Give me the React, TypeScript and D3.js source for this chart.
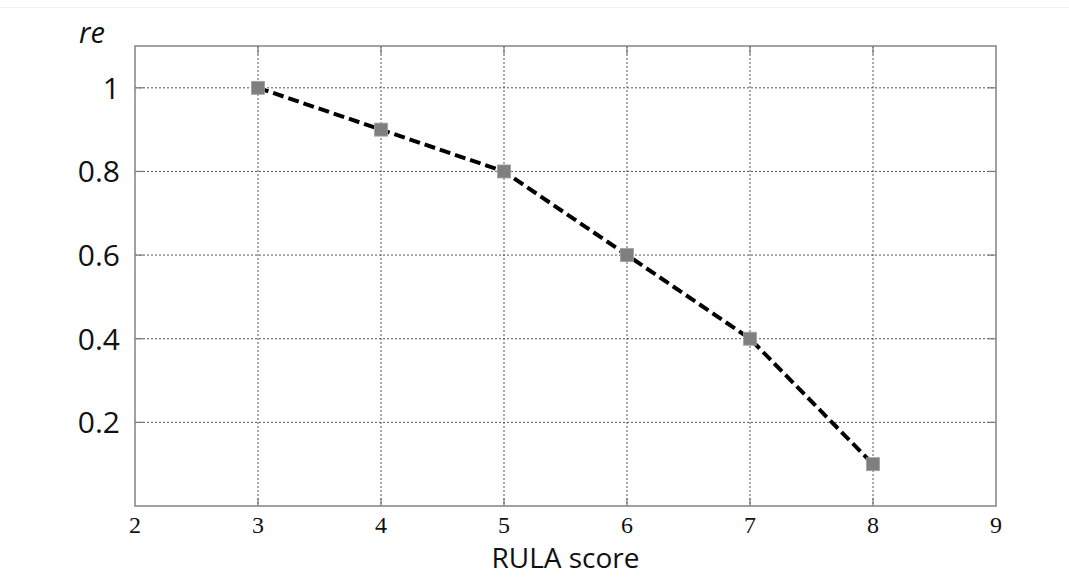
import { useEffect, useRef } from 'react'
import * as d3 from 'd3'

const rulaScores = [3, 4, 5, 6, 7, 8]
const reValues = [1.0, 0.9, 0.8, 0.6, 0.4, 0.1]
const xTicks = [2, 3, 4, 5, 6, 7, 8, 9]
const yTicks = [0.2, 0.4, 0.6, 0.8, 1]

const WIDTH = 1069
const HEIGHT = 580
const MARGIN = { top: 46, right: 73, bottom: 74, left: 135 }

export default function App() {
  const svgRef = useRef<SVGSVGElement>(null)

  useEffect(() => {
    if (!svgRef.current) return
    document.body.style.margin = '0'

    const innerWidth = WIDTH - MARGIN.left - MARGIN.right
    const innerHeight = HEIGHT - MARGIN.top - MARGIN.bottom

    const svg = d3.select(svgRef.current)
    svg.selectAll('*').remove()

    svg.append('rect').attr('width', WIDTH).attr('height', HEIGHT).attr('fill', '#fff')
    svg
      .append('line')
      .attr('x1', 0)
      .attr('x2', WIDTH)
      .attr('y1', 7.5)
      .attr('y2', 7.5)
      .attr('stroke', '#f0f0f0')

    const g = svg.append('g').attr('transform', `translate(${MARGIN.left},${MARGIN.top})`)

    const x = d3.scaleLinear().domain([2, 9]).range([0, innerWidth])
    const y = d3.scaleLinear().domain([0, 1.1]).range([innerHeight, 0])

    // grid
    g.append('g')
      .selectAll('line')
      .data(xTicks.slice(1, -1))
      .join('line')
      .attr('x1', (d) => x(d))
      .attr('x2', (d) => x(d))
      .attr('y1', 0)
      .attr('y2', innerHeight)
      .attr('stroke', '#555')
      .attr('stroke-width', 1)
      .attr('stroke-dasharray', '2,2')
    g.append('g')
      .selectAll('line')
      .data(yTicks)
      .join('line')
      .attr('x1', 0)
      .attr('x2', innerWidth)
      .attr('y1', (d) => y(d))
      .attr('y2', (d) => y(d))
      .attr('stroke', '#555')
      .attr('stroke-width', 1)
      .attr('stroke-dasharray', '2,2')

    // inward ticks
    const tickLen = 8
    const tickG = g.append('g').attr('stroke', '#777').attr('stroke-width', 1.2)
    for (const t of xTicks.slice(1, -1)) {
      tickG.append('line').attr('x1', x(t)).attr('x2', x(t)).attr('y1', innerHeight).attr('y2', innerHeight - tickLen)
      tickG.append('line').attr('x1', x(t)).attr('x2', x(t)).attr('y1', 0).attr('y2', tickLen)
    }
    for (const t of yTicks) {
      tickG.append('line').attr('x1', 0).attr('x2', tickLen).attr('y1', y(t)).attr('y2', y(t))
      tickG.append('line').attr('x1', innerWidth).attr('x2', innerWidth - tickLen).attr('y1', y(t)).attr('y2', y(t))
    }

    // frame
    g.append('rect')
      .attr('width', innerWidth)
      .attr('height', innerHeight)
      .attr('fill', 'none')
      .attr('stroke', '#8a8a8a')
      .attr('stroke-width', 1.6)

    // y labels
    g.append('g')
      .selectAll('text')
      .data(yTicks)
      .join('text')
      .attr('x', -15)
      .attr('y', (d) => y(d))
      .attr('dy', '0.36em')
      .attr('text-anchor', 'end')
      .attr('font-family', '"Open Sans", sans-serif')
      .attr('font-size', 30)
      .attr('fill', '#111')
      .text((d) => String(d))

    // x labels
    g.append('g')
      .selectAll('text')
      .data(xTicks)
      .join('text')
      .attr('x', (d) => x(d))
      .attr('y', innerHeight + 27)
      .attr('text-anchor', 'middle')
      .attr('font-family', '"Liberation Serif", "Times New Roman", serif')
      .attr('font-size', 24)
      .attr('fill', '#111')
      .text((d) => String(d))

    // axis titles
    svg
      .append('text')
      .attr('x', MARGIN.left + innerWidth / 2)
      .attr('y', 568)
      .attr('text-anchor', 'middle')
      .attr('font-family', '"Open Sans", sans-serif')
      .attr('font-size', 28)
      .attr('fill', '#111')
      .text('RULA score')
    svg
      .append('text')
      .attr('x', 79)
      .attr('y', 43)
      .attr('font-family', '"Open Sans", sans-serif')
      .attr('font-style', 'italic')
      .attr('font-size', 29)
      .attr('fill', '#111')
      .text('re')

    const data = rulaScores.map((s, i) => ({ s, v: reValues[i] }))

    const line = d3
      .line<{ s: number; v: number }>()
      .x((d) => x(d.s))
      .y((d) => y(d.v))
    g.append('path')
      .datum(data)
      .attr('d', line)
      .attr('fill', 'none')
      .attr('stroke', '#000')
      .attr('stroke-width', 4)
      .attr('stroke-dasharray', '11,5')

    const size = 13
    g.append('g')
      .selectAll('rect')
      .data(data)
      .join('rect')
      .attr('x', (d) => x(d.s) - size / 2)
      .attr('y', (d) => y(d.v) - size / 2)
      .attr('width', size)
      .attr('height', size)
      .attr('fill', '#7f7f7f')
      .attr('stroke', '#a0a0a0')
      .attr('stroke-width', 0.8)
  }, [])

  return <svg ref={svgRef} width={WIDTH} height={HEIGHT} style={{ display: 'block' }} />
}
